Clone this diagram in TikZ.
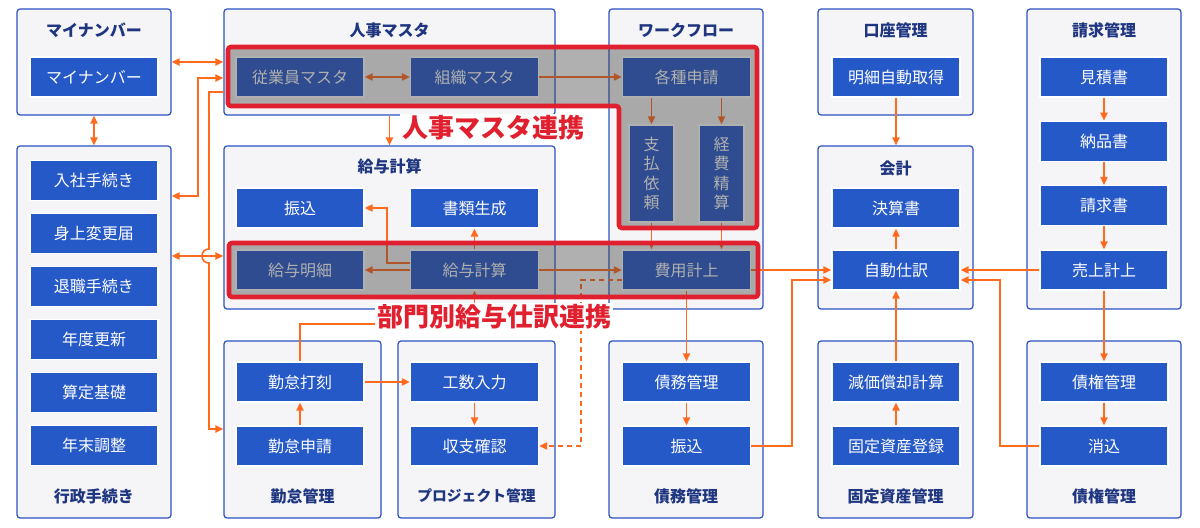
\documentclass[tikz,border=0pt]{standalone}
\usepackage{fontspec}
\setmainfont{Noto Sans CJK JP}
\usetikzlibrary{arrows.meta}
\definecolor{cbg}{HTML}{F5F4F6}
\definecolor{cbd}{HTML}{2B52C4}
\definecolor{bxb}{HTML}{2659C8}
\definecolor{org}{HTML}{FF6A1F}
\definecolor{hred}{HTML}{E0202E}
\definecolor{navy}{HTML}{1E3580}
\definecolor{ovl}{HTML}{3A3A3A}
\begin{document}
\begin{tikzpicture}[x=0.5pt,y=-0.5pt,
 cont/.style={draw=cbd, fill=cbg, line width=0.6pt, rounded corners=1.5pt, inner sep=0pt},
 bx/.style={draw=white, fill=bxb, line width=0.7pt, text=white, minimum width=64pt, minimum height=20pt, inner sep=0pt, font=\fontsize{8}{9}\selectfont},
 vbx/.style={bx, minimum width=22.5pt, minimum height=48.5pt, align=center, font=\fontsize{8}{9.75}\selectfont},
 ttl/.style={text=navy, font=\bfseries\fontsize{8}{9}\selectfont, inner sep=0pt},
 con/.style={draw=org, line width=0.8pt},
 arr/.style={con, -{Triangle[length=4pt,width=3.6pt]}},
 darr/.style={con, {Triangle[length=4pt,width=3.6pt]}-{Triangle[length=4pt,width=3.6pt]}},
 dsh/.style={dash pattern=on 2.5pt off 2pt},
 redf/.style={draw=hred, line width=2.3pt, rounded corners=1.5pt},
 ovr/.style={fill=ovl, fill opacity=0.4},
 lbl/.style={text=hred, fill=white, font=\bfseries\fontsize{13}{14}\selectfont, inner sep=1pt}
]
\useasboundingbox[fill=white] (0,0) rectangle (1200,528);

% containers
\node[cont, minimum width=77pt, minimum height=53pt] (cMy) at (94,62) {};
\node[cont, minimum width=77pt, minimum height=186pt] (cGyo) at (94,332) {};
\node[cont, minimum width=165.5pt, minimum height=53pt] (cJin) at (389.5,62) {};
\node[cont, minimum width=165.5pt, minimum height=81.5pt] (cKyu) at (389.5,227.5) {};
\node[cont, minimum width=77pt, minimum height=150pt] (cWF) at (686,159) {};
\node[cont, minimum width=77.5pt, minimum height=53pt] (cKoza) at (895.5,62) {};
\node[cont, minimum width=77.5pt, minimum height=81.5pt] (cKai) at (895.5,227.5) {};
\node[cont, minimum width=77pt, minimum height=150pt] (cSei) at (1104,159) {};
\node[cont, minimum width=78.5pt, minimum height=88.5pt] (cKin) at (302.5,429.5) {};
\node[cont, minimum width=78.5pt, minimum height=88.5pt] (cPrj) at (476.5,429.5) {};
\node[cont, minimum width=77pt, minimum height=88.5pt] (cSai) at (686,429.5) {};
\node[cont, minimum width=77.5pt, minimum height=88.5pt] (cKot) at (895.5,429.5) {};
\node[cont, minimum width=77pt, minimum height=88.5pt] (cSak) at (1104,429.5) {};

% titles
\node[ttl] (tMy) at (94,30) {マイナンバー};
\node[ttl] (tJin) at (389.5,30) {人事マスタ};
\node[ttl] (tWF) at (686,30) {ワークフロー};
\node[ttl] (tKoza) at (895.5,30) {口座管理};
\node[ttl] (tSei) at (1104,30) {請求管理};
\node[ttl] (tKyu) at (389.5,166) {給与計算};
\node[ttl] (tKai) at (895.5,168) {会計};
\node[ttl] (tGyo) at (94,496) {行政手続き};
\node[ttl] (tKin) at (302.5,496) {勤怠管理};
\node[ttl, font=\bfseries\fontsize{7.4}{9}\selectfont] (tPrj) at (476.5,496) {プロジェクト管理};
\node[ttl] (tSai) at (686,496) {債務管理};
\node[ttl] (tKot) at (895.5,496) {固定資産管理};
\node[ttl] (tSak) at (1104,496) {債権管理};

% boxes
\node[bx] (bMy) at (94,77) {マイナンバー};
\node[bx] (g1) at (94,180.5) {入社手続き};
\node[bx] (g2) at (94,233.5) {身上変更届};
\node[bx] (g3) at (94,286.5) {退職手続き};
\node[bx] (g4) at (94,339.5) {年度更新};
\node[bx] (g5) at (94,392.5) {算定基礎};
\node[bx] (g6) at (94,445.5) {年末調整};
\node[bx] (bJu) at (300,77) {従業員マスタ};
\node[bx] (bSo) at (474.5,77) {組織マスタ};
\node[bx] (bKs) at (686.5,77) {各種申請};
\node[vbx] (bShi) at (651.5,173.5) {支\\払\\依\\頼};
\node[vbx] (bKei) at (721.5,173.5) {経\\費\\精\\算};
\node[bx] (bFuri) at (300,208) {振込};
\node[bx] (bSho) at (474.5,208) {書類生成};
\node[bx] (bMei) at (300,270) {給与明細};
\node[bx] (bKk) at (474.5,270) {給与計算};
\node[bx] (bHi) at (686.5,270) {費用計上};
\node[bx] (bKa) at (300,382) {勤怠打刻};
\node[bx] (bKsh) at (300,446) {勤怠申請};
\node[bx] (bKo) at (474.5,382) {工数入力};
\node[bx] (bSyu) at (474.5,446) {収支確認};
\node[bx] (bSm) at (686.5,382) {債務管理};
\node[bx] (bSf) at (686.5,446) {振込};
\node[bx] (bMs) at (896,77) {明細自動取得};
\node[bx] (bKe) at (896,208) {決算書};
\node[bx] (bJi) at (896,270) {自動仕訳};
\node[bx] (bGe) at (896,382) {減価償却計算};
\node[bx] (bKt) at (896,446) {固定資産登録};
\node[bx] (bMi) at (1104,77) {見積書};
\node[bx] (bNo) at (1104,141.3) {納品書};
\node[bx] (bSk) at (1104,205.7) {請求書};
\node[bx] (bUr) at (1104,270) {売上計上};
\node[bx] (bSaik) at (1104,382) {債権管理};
\node[bx] (bKes) at (1104,446) {消込};

% connectors
\draw[darr] (cMy.east) -- (cJin.west);
\draw[darr] (cMy.south) -- (cGyo.north);
\draw[darr] (cGyo.east |- 0,196) -| (198,78) -- (cJin.west |- 0,78);
\draw[arr] (cJin.west |- 0,92) -- (209,92) -- (209,249) .. controls (199.7,249) and (199.7,263) .. (209,263) -- (209,429) -- (cKin.west |- 0,429);
\draw[darr] (cGyo.east |- 0,256) -- (cKyu.west |- 0,256);
\draw[arr] (cJin.south) -- (cKyu.north);
\draw[darr] (bJu) -- (bSo);
\draw[arr] (bSo) -- (bKs);
\draw[arr] (bKs.south -| bShi) -- (bShi.north);
\draw[arr] (bKs.south -| bKei) -- (bKei.north);
\draw[arr] (bShi.south) -- (bHi.north -| bShi);
\draw[arr] (bKei.south) -- (bHi.north -| bKei);
\draw[arr] (bKk.west |- 0,263) -- (387,263) |- (bFuri.east);
\draw[arr] (bKk) -- (bMei);
\draw[arr] (bKk.north) -- (bSho.south);
\draw[arr] (bKk) -- (bHi);
\draw[arr] (bKa.north) |- (bKk.south |- 0,324) -- (bKk.south);
\draw[arr, dsh] (bHi.west |- 0,280) -- (581,280) |- (bSyu.east);
\draw[arr] (bHi.south) -- (bSm.north);
\draw[arr] (bSm) -- (bSf);
\draw[arr] (bSf.east) -- (792,446) |- (bJi.west |- 0,280);
\draw[arr] (bHi.east) -- (bJi.west);
\draw[arr] (bMs.south) -- (cKai.north -| bMs);
\draw[arr] (bJi) -- (bKe);
\draw[arr] (bGe) -- (bJi);
\draw[arr] (bKt) -- (bGe);
\draw[arr] (bUr) -- (bJi);
\draw[arr] (bKes.west) -- (1000,446) |- (bJi.east |- 0,280);
\draw[arr] (bMi) -- (bNo);
\draw[arr] (bNo) -- (bSk);
\draw[arr] (bSk) -- (bUr);
\draw[arr] (bUr) -- (bSaik);
\draw[arr] (bSaik) -- (bKes);
\draw[arr] (bKsh) -- (bKa);
\draw[arr] (bKa) -- (bKo);
\draw[arr] (bKo) -- (bSyu);

% highlight overlays
\fill[ovr] (228,47) -- (757,47) -- (757,228) -- (619,228) -- (619,106) -- (228,106) -- cycle;
\fill[ovr] (229,243) rectangle (758,297);
\draw[redf] (228,47) -- (757,47) -- (757,228) -- (619,228) -- (619,106) -- (228,106) -- cycle;
\draw[redf] (229,243) rectangle (758,297);

% labels
\node[lbl] (l1) at (493,128) {人事マスタ連携};
\node[lbl] (l2) at (494,317) {部門別給与仕訳連携};
\end{tikzpicture}
\end{document}
